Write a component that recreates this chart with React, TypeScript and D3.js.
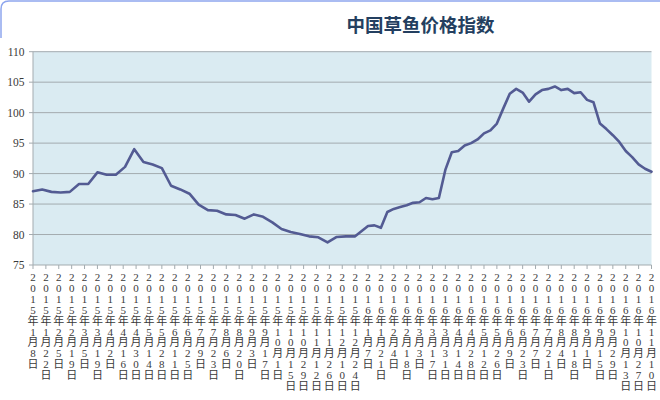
import React from "react";
import * as d3 from "d3";

const title = "中国草鱼价格指数";

const dates2015 = [
  "2015-01-08", "2015-01-18", "2015-01-28", "2015-02-07", "2015-02-17", "2015-02-27",
  "2015-03-09", "2015-03-19", "2015-03-29", "2015-04-08", "2015-04-18", "2015-04-28",
  "2015-05-08", "2015-05-18", "2015-05-28", "2015-06-07", "2015-06-17", "2015-06-27",
  "2015-07-07", "2015-07-17", "2015-07-27", "2015-08-06", "2015-08-16", "2015-08-26",
  "2015-09-05", "2015-09-15", "2015-09-25", "2015-10-05", "2015-10-15", "2015-10-25",
  "2015-11-04", "2015-11-14", "2015-11-24", "2015-12-04", "2015-12-14", "2015-12-24",
];
const values2015 = [
  87.1, 87.4, 87.0, 86.9, 87.0, 88.3, 88.3, 90.2, 89.8, 89.8,
  91.1, 94.0, 91.9, 91.5, 90.9, 88.0, 87.4, 86.7, 84.9, 84.0,
  83.9, 83.3, 83.2, 82.6, 83.3, 82.9, 82.0, 80.9, 80.4, 80.1,
  79.7, 79.55, 78.7, 79.6, 79.7, 79.7,
];

const dates2016 = [
  "2016-01-07", "2016-01-14", "2016-01-21", "2016-01-28", "2016-02-04", "2016-02-11",
  "2016-02-18", "2016-02-25", "2016-03-03", "2016-03-10", "2016-03-17", "2016-03-24",
  "2016-03-31", "2016-04-07", "2016-04-14", "2016-04-21", "2016-04-28", "2016-05-05",
  "2016-05-12", "2016-05-19", "2016-05-26", "2016-06-02", "2016-06-09", "2016-06-16",
  "2016-06-23", "2016-06-30", "2016-07-07", "2016-07-14", "2016-07-21", "2016-07-28",
  "2016-08-04", "2016-08-11", "2016-08-18", "2016-08-25", "2016-09-01", "2016-09-08",
  "2016-09-15", "2016-09-22", "2016-09-29", "2016-10-06", "2016-10-13", "2016-10-20",
  "2016-10-27", "2016-11-03", "2016-11-10",
];
const values2016 = [
  81.4, 81.5, 81.1, 83.7, 84.2, 84.5, 84.8, 85.2, 85.3, 86.0,
  85.8, 86.0, 90.6, 93.5, 93.7, 94.6, 95.0, 95.6, 96.6, 97.1,
  98.2, 100.7, 103.1, 103.9, 103.3, 101.8, 103.0, 103.7, 103.9, 104.3,
  103.7, 103.9, 103.2, 103.35, 102.1, 101.7, 98.2, 97.3, 96.3, 95.2,
  93.7, 92.7, 91.5, 90.8, 90.3,
];

const xTickLabels = [
  "2015年1月8日", "2015年1月22日", "2015年2月5日", "2015年2月19日", "2015年3月5日",
  "2015年3月19日", "2015年4月2日", "2015年4月16日", "2015年4月30日", "2015年5月14日",
  "2015年5月28日", "2015年6月11日", "2015年6月25日", "2015年7月9日", "2015年7月23日",
  "2015年8月6日", "2015年8月20日", "2015年9月3日", "2015年9月17日", "2015年10月1日",
  "2015年10月15日", "2015年10月29日", "2015年11月12日", "2015年11月26日", "2015年12月10日",
  "2015年12月24日", "2016年1月7日", "2016年1月21日", "2016年2月4日", "2016年2月18日",
  "2016年3月3日", "2016年3月17日", "2016年3月31日", "2016年4月14日", "2016年4月28日",
  "2016年5月12日", "2016年5月26日", "2016年6月9日", "2016年6月23日", "2016年7月7日",
  "2016年7月21日", "2016年8月4日", "2016年8月18日", "2016年9月1日", "2016年9月15日",
  "2016年9月29日", "2016年10月13日", "2016年10月27日", "2016年11月10日",
];

const yTicks = [75, 80, 85, 90, 95, 100, 105, 110];

const W = 660;
const H = 400;
const plot = { left: 33, right: 651.5, top: 51.7, bottom: 265 };

const parseIso = d3.utcParse("%Y-%m-%d");
const parseCn = (s: string) => {
  const m = s.match(/(\d+)年(\d+)月(\d+)日/)!;
  return new Date(Date.UTC(+m[1], +m[2] - 1, +m[3]));
};

export default function App() {
  const points = [
    ...dates2015.map((d, i) => ({ date: parseIso(d)!, value: values2015[i] })),
    ...dates2016.map((d, i) => ({ date: parseIso(d)!, value: values2016[i] })),
  ];
  const tickDates = xTickLabels.map(parseCn);

  const x = d3
    .scaleUtc()
    .domain([tickDates[0], tickDates[tickDates.length - 1]])
    .range([plot.left, plot.right]);
  const y = d3.scaleLinear().domain([75, 110]).range([plot.bottom, plot.top]);

  const line = d3
    .line<{ date: Date; value: number }>()
    .x((d) => x(d.date))
    .y((d) => y(d.value));

  const serif = "'Liberation Serif', 'DejaVu Serif', 'Noto Sans CJK SC', serif";
  const lineH = 10.9;

  return (
    <svg
      width={W}
      height={H}
      style={{ position: "absolute", left: 0, top: 0, background: "#fff" }}
    >
      <rect x={0} y={0} width={W} height={H} fill="#ffffff" />
      <path
        d={`M1,38 L1,9 Q1,1 9,1 L${W},1`}
        fill="none"
        stroke="#8EA6EE"
        strokeWidth={1.5}
      />
      <text
        x={420.5}
        y={32}
        textAnchor="middle"
        fontFamily="'Noto Sans CJK SC', sans-serif"
        fontWeight="bold"
        fontSize={18.5}
        fill="#243F60"
      >
        {title}
      </text>

      <rect
        x={plot.left}
        y={plot.top}
        width={plot.right - plot.left}
        height={plot.bottom - plot.top}
        fill="#DAEBF2"
      />
      {yTicks.map((t) => (
        <g key={t}>
          <line
            x1={plot.left - 4}
            x2={plot.right}
            y1={y(t)}
            y2={y(t)}
            stroke="#A3ABAF"
            strokeWidth={1}
          />
          <text
            x={24.5}
            y={y(t) + 4}
            textAnchor="end"
            fontFamily={serif}
            fontSize={11.5}
            fill="#3A3A3A"
          >
            {t}
          </text>
        </g>
      ))}
      <line
        x1={plot.left}
        x2={plot.left}
        y1={plot.top}
        y2={plot.bottom}
        stroke="#A3ABAF"
        strokeWidth={1}
      />
      {tickDates.map((d, i) => {
        const tx = x(d);
        const chars = Array.from(xTickLabels[i]);
        return (
          <g key={i}>
            <line
              x1={tx}
              x2={tx}
              y1={plot.bottom}
              y2={plot.bottom + 4}
              stroke="#A3ABAF"
              strokeWidth={1}
            />
            <text
              textAnchor="middle"
              fontFamily={serif}
              fontSize={11}
              fill="#3A3A3A"
            >
              {chars.map((c, j) => (
                <tspan key={j} x={tx} y={281 + j * lineH}>
                  {c}
                </tspan>
              ))}
            </text>
          </g>
        );
      })}

      <path
        d={line(points) || ""}
        fill="none"
        stroke="#535B93"
        strokeWidth={2.6}
        strokeLinejoin="round"
        strokeLinecap="round"
      />
    </svg>
  );
}
